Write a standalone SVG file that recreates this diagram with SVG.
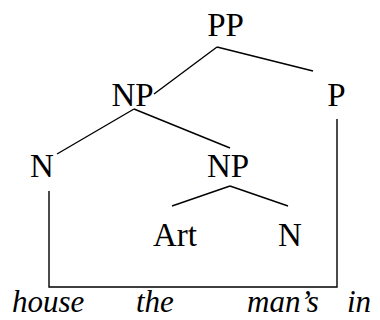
<svg xmlns="http://www.w3.org/2000/svg" width="380" height="320" viewBox="0 0 380 320">
<style>
.t{font-family:"Liberation Serif","Times New Roman",serif;font-size:33px;fill:#000;text-anchor:middle}
.w{font-family:"Liberation Serif","Times New Roman",serif;font-size:31px;font-style:italic;fill:#000}
.e{stroke:#000;stroke-width:1.4;fill:none}
</style>
<rect width="380" height="320" fill="#fff"/>
<g id="connectors">
<line class="e" x1="217" y1="47" x2="154" y2="94"/>
<line class="e" x1="217" y1="47" x2="313" y2="71"/>
<line class="e" x1="134" y1="109" x2="57" y2="154"/>
<line class="e" x1="134" y1="109" x2="230" y2="148"/>
<line class="e" x1="230" y1="186" x2="172" y2="206"/>
<line class="e" x1="230" y1="186" x2="288" y2="206"/>
<polyline class="e" points="49,191 49,287 337,287 337,119"/>
</g>
<g id="PP"><text class="t" x="225.5" y="36">PP</text></g>
<g id="NP1"><text class="t" x="132.5" y="106">NP</text></g>
<g id="P"><text class="t" x="336.5" y="106">P</text></g>
<g id="N1"><text class="t" x="42" y="177">N</text></g>
<g id="NP2"><text class="t" x="228" y="177">NP</text></g>
<g id="Art"><text class="t" x="175" y="246">Art</text></g>
<g id="N2"><text class="t" x="290" y="246">N</text></g>
<g id="words">
<text class="w" x="12" y="312">house</text>
<text class="w" x="136" y="312">the</text>
<text class="w" x="247" y="312">man’s</text>
<text class="w" x="347" y="312">in</text>
</g>
</svg>
